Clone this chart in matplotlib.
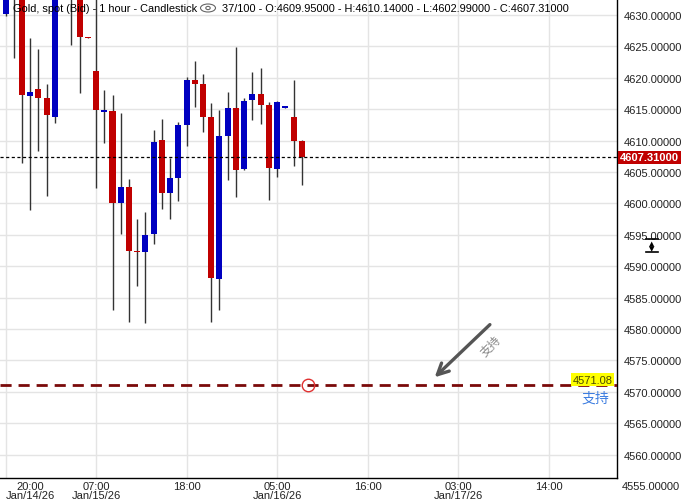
import matplotlib
matplotlib.use("Agg")
import matplotlib.pyplot as plt
import matplotlib.transforms as mtransforms
from matplotlib.patches import Ellipse, Circle
import numpy as np

plt.rcParams['font.family'] = ['Liberation Sans', 'Noto Sans CJK SC', 'DejaVu Sans']

# hourly candles, 20:00 Jan/14/26 .. 08:00 Jan/16/26
opens = [4630.2, 4637.0, 4635.0, 4617.15, 4618.2, 4616.8, 4613.8, 4635.0, 4638.0, 4633.5,
         4626.5, 4621.1, 4614.6, 4614.7, 4600.0, 4602.6, 4592.4, 4592.2, 4595.2, 4610.1,
         4601.7, 4604.0, 4612.5, 4619.6, 4619.0, 4613.8, 4588.0, 4610.7, 4615.2, 4605.5,
         4616.5, 4617.4, 4615.7, 4605.5, 4615.2, 4613.8, 4609.95]
highs = [4638.0, 4639.0, 4636.5, 4626.3, 4624.6, 4619.0, 4637.0, 4641.0, 4639.5, 4635.0,
         4626.5, 4634.0, 4618.1, 4617.3, 4614.4, 4603.9, 4597.5, 4598.7, 4611.7, 4613.4,
         4607.2, 4613.0, 4620.1, 4622.7, 4620.6, 4616.0, 4614.9, 4617.7, 4624.9, 4616.8,
         4620.9, 4621.6, 4616.1, 4616.3, 4615.4, 4619.6, 4610.14]
lows = [4629.8, 4623.2, 4606.5, 4599.0, 4608.4, 4601.1, 4612.75, 4633.0, 4625.3, 4617.6,
        4626.3, 4602.5, 4609.6, 4583.1, 4595.2, 4581.1, 4586.8, 4580.9, 4593.5, 4599.1,
        4597.5, 4600.4, 4609.1, 4615.4, 4611.4, 4581.1, 4583.0, 4603.7, 4601.0, 4605.3,
        4613.3, 4612.6, 4600.5, 4604.2, 4615.2, 4606.0, 4602.99]
closes = [4636.0, 4634.0, 4617.3, 4617.7, 4616.8, 4614.1, 4635.0, 4638.0, 4632.4, 4626.5,
          4626.3, 4614.8, 4614.9, 4600.0, 4602.6, 4592.4, 4592.2, 4595.0, 4609.8, 4601.7,
          4604.0, 4612.5, 4619.6, 4619.0, 4613.8, 4588.1, 4610.7, 4615.2, 4605.3, 4616.3,
          4617.4, 4615.7, 4605.6, 4616.1, 4615.4, 4609.9, 4607.31]

tick_hours = [0, 11, 22, 33, 44, 55, 66]
tick_labels = ['20:00\nJan/14/26', '07:00\nJan/15/26', '18:00', '05:00\nJan/16/26',
               '16:00', '03:00\nJan/17/26', '14:00']
y_ticks = list(range(4560, 4635, 5))
y_below = 4555

last_price = 4607.31
support = 4571.08
support_text = '支持'

UP = '#0000c0'
DOWN = '#c00000'
TXT = '#222222'

fig = plt.figure(figsize=(6.85, 5.02), dpi=100)
ax = fig.add_axes([0, 23 / 502, 617 / 685, 479 / 502])

x = np.arange(len(opens))
o = np.array(opens)
c = np.array(closes)
colors = [UP if cc >= oo else DOWN for oo, cc in zip(o, c)]
ax.vlines(x, lows, highs, color='#333333', lw=1, zorder=3)
body = np.maximum(np.abs(c - o), 0.25)
ax.bar(x, body, bottom=np.minimum(o, c), width=0.73, color=colors, zorder=4)

ax.set_yticks(y_ticks)
ax.set_xticks(tick_hours)
ax.set_xlim(-0.67, 74.3)
ax.set_ylim(4556.27, 4632.55)
ax.grid(True, color='#e4e4e4', lw=1, zorder=0)
ax.tick_params(length=0)
ax.yaxis.tick_right()
ax.set_yticklabels(['%.5f' % v for v in y_ticks], fontsize=8, color=TXT)
ax.tick_params(axis='y', pad=5)
ax.set_xticklabels([''] + tick_labels[1:], fontsize=8, color=TXT, linespacing=0.9)
ax.tick_params(axis='x', pad=2)
ax.text(30 / 617, -3 / 479, tick_labels[0], transform=ax.transAxes, ha='center', va='top',
        fontsize=8, color=TXT, linespacing=0.9)

for s in ['top', 'left']:
    ax.spines[s].set_visible(False)
for s in ['right', 'bottom']:
    ax.spines[s].set_color('black')
    ax.spines[s].set_linewidth(1)

trans = mtransforms.blended_transform_factory(ax.transAxes, ax.transData)
off5 = mtransforms.ScaledTranslation(5 / 100, 0, fig.dpi_scale_trans)
off3 = mtransforms.ScaledTranslation(3 / 100, 0, fig.dpi_scale_trans)

# tick label that sits just below the visible range
ax.text(1.0, y_below, '%.5f' % y_below, transform=trans + off5, ha='left', va='center',
        fontsize=8, color=TXT, clip_on=False)

# current price line + label
ax.axhline(last_price, color='black', lw=0.9, ls=(0, (2.5, 2)), zorder=5)
ax.text(1.0, last_price, '%.5f' % last_price, transform=trans + off3, ha='left',
        va='center', fontsize=8, color='white', fontweight='bold', clip_on=False,
        bbox=dict(boxstyle='square,pad=0.15', fc=DOWN, ec='none'))

# support line
ax.axhline(support, color='#7a0a0a', lw=2, ls=(0, (4, 2.5)), zorder=5)
ax.text(0.993, support + 0.85, '%.2f' % support, transform=trans, ha='right', va='center',
        fontsize=8, color='#4a4a00', zorder=6,
        bbox=dict(boxstyle='square,pad=0.12', fc='#ffff00', ec='none'))
ax.text(0.965, support - 0.95, support_text, transform=trans, ha='center', va='top',
        fontsize=10, color='#3d7de0', family=['Noto Sans CJK SC', 'DejaVu Sans'])
ax.plot([36.75], [support], marker='o', ms=9, mfc='none', mec='#e03030', mew=1, zorder=7)

# arrow annotation
ax.annotate('', xy=(51.9, 4572.0), xytext=(59.1, 4581.0),
            arrowprops=dict(arrowstyle='->,head_length=0.8,head_width=0.4',
                            color='#555555', lw=2.4), zorder=7)
ax.text(58.9, 4577.4, support_text, rotation=45, ha='center', va='center', fontsize=8.5,
        color='#888888', family=['Noto Sans CJK SC', 'DejaVu Sans'])

# header
fig.text(13 / 685, 1 - 9 / 502, 'Gold, spot (Bid) - 1 hour - Candlestick', ha='left',
         va='center', fontsize=7.9, color='black')
fig.text(222 / 685, 1 - 9 / 502,
         '37/100 - O:4609.95000 - H:4610.14000 - L:4602.99000 - C:4607.31000',
         ha='left', va='center', fontsize=7.9, color='black')
fig.add_artist(Ellipse((208 / 685, 1 - 9 / 502), 15 / 685, 8 / 502, transform=fig.transFigure,
                       fill=False, ec='#666666', lw=0.8))
fig.add_artist(Circle((208 / 685, 1 - 9 / 502), 2.2 / 685, transform=fig.transFigure,
                      fill=False, ec='#666666', lw=0.8))

# scroll handle icon on price axis
fig.add_artist(plt.Line2D([646 / 685, 658 / 685], [1 - 240 / 502] * 2, color='black', lw=1.2))
fig.add_artist(plt.Line2D([646 / 685, 658 / 685], [1 - 253 / 502] * 2, color='black', lw=1.2))
fig.text(652 / 685, 1 - 244.2 / 502, '▲', ha='center', va='center', fontsize=5,
         family='DejaVu Sans')
fig.text(652 / 685, 1 - 248.8 / 502, '▼', ha='center', va='center', fontsize=5,
         family='DejaVu Sans')

fig.savefig('out.png', dpi=100)
